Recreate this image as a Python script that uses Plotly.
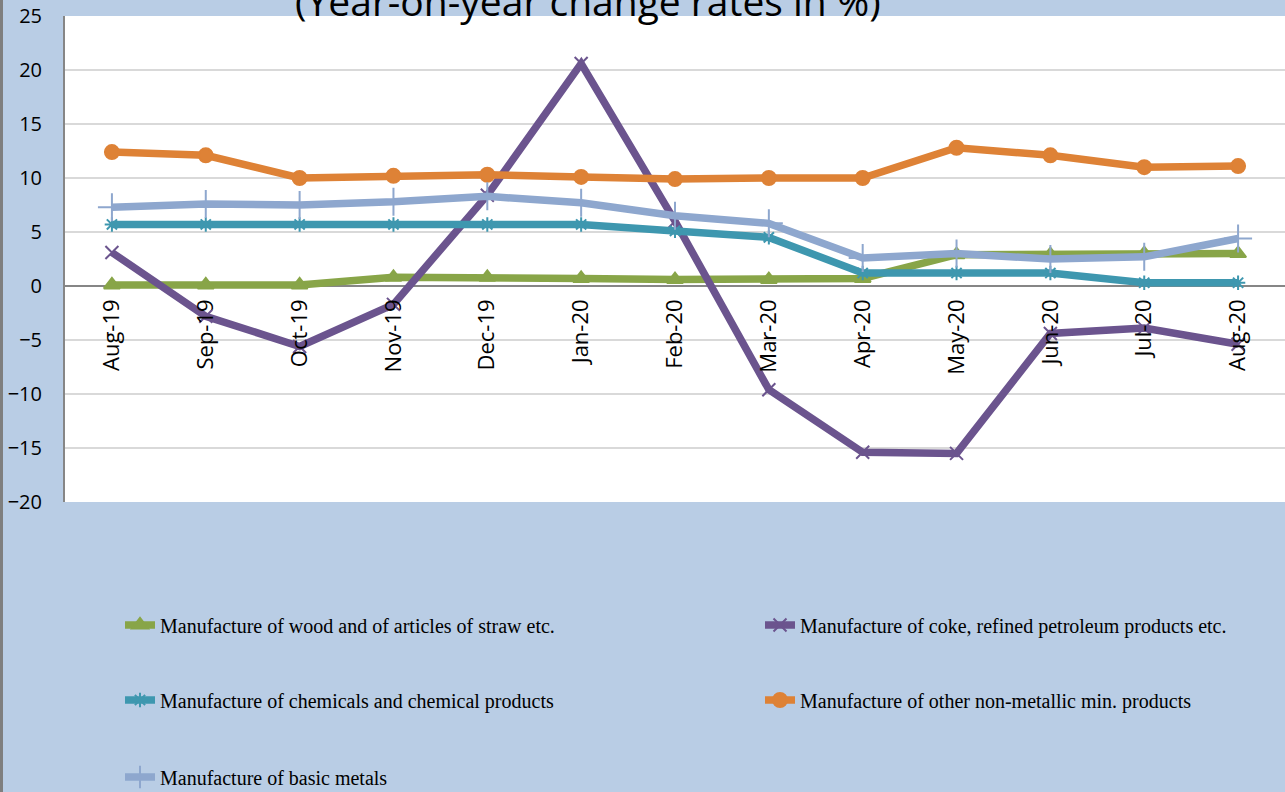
import plotly.graph_objects as go

months = ["Aug-19", "Sep-19", "Oct-19", "Nov-19", "Dec-19", "Jan-20", "Feb-20",
          "Mar-20", "Apr-20", "May-20", "Jun-20", "Jul-20", "Aug-20"]

wood = [0.1, 0.1, 0.1, 0.8, 0.8, 0.7, 0.6, 0.6, 0.7, 2.9, 2.9, 3.0, 3.0]
coke = [3.1, -2.8, -5.6, -1.7, 8.4, 20.6, 6.0, -9.6, -15.4, -15.5, -4.4, -3.9, -5.4]
chemicals = [5.7, 5.7, 5.7, 5.7, 5.7, 5.7, 5.1, 4.5, 1.2, 1.2, 1.2, 0.3, 0.3]
nonmetallic = [12.4, 12.1, 10.0, 10.2, 10.3, 10.1, 9.9, 10.0, 10.0, 12.8, 12.1, 11.0, 11.1]
metals = [7.3, 7.6, 7.5, 7.8, 8.3, 7.7, 6.5, 5.8, 2.6, 3.0, 2.5, 2.7, 4.4]

names = ["Manufacture of wood and of articles of straw etc.",
         "Manufacture of coke, refined petroleum products etc.",
         "Manufacture of chemicals and chemical products",
         "Manufacture of other non-metallic min. products",
         "Manufacture of basic metals"]

title_text = "(Year-on-year change rates in %)"
y_ticks = [-20, -15, -10, -5, 0, 5, 10, 15, 20, 25]

series = [wood, coke, chemicals, nonmetallic, metals]
colors = ["#88A548", "#6B548E", "#3E97AF", "#DE8236", "#8EA7CE"]
symbols = ["triangle-up", "x-thin", "asterisk-open", "circle", "cross-thin"]
msizes = [14, 13, 12, 14, 20]
legends = ["legend", "legend2", "legend3", "legend4", "legend5"]

fig = go.Figure()
for vals, name, col, sym, ms, lg in zip(series, names, colors, symbols, msizes, legends):
    fig.add_trace(go.Scatter(
        x=months, y=vals, name=name, mode="lines+markers", legend=lg,
        line=dict(color=col, width=7.5),
        marker=dict(symbol=sym, size=ms, color=col, line=dict(color=col, width=2)),
        hoverinfo="skip",
    ))

W, H = 1285, 792
ml, mt, mb, mr = 65, 16, 290, 0
plot_h = H - mt - mb
plot_w = W - ml - mr


def px_y(py):
    return (H - mb - py) / plot_h


def px_x(px):
    return (px - ml) / plot_w


leg_font = dict(family="Liberation Serif", size=20, color="#000000")
leg_pos = [(120, 625), (760, 625), (120, 700), (760, 700), (120, 777)]
leg_layout = {}
for lg, (lx, ly) in zip(legends, leg_pos):
    leg_layout[lg] = dict(x=px_x(lx), y=px_y(ly), xanchor="left", yanchor="middle",
                          bgcolor="rgba(0,0,0,0)", font=leg_font, borderwidth=0)

fig.update_layout(
    width=W, height=H,
    margin=dict(l=ml, r=mr, t=mt, b=mb, autoexpand=False),
    paper_bgcolor="#B9CDE5",
    plot_bgcolor="#FFFFFF",
    showlegend=True,
    **leg_layout,
    xaxis=dict(
        type="category", range=[-0.5, 12.5], anchor="free", position=20 / 45,
        tickangle=-90, showgrid=False, showline=False, ticks="", automargin=False,
        ticklabelstandoff=8,
        tickfont=dict(family="Open Sans", size=22, color="#000000"),
    ),
    yaxis=dict(
        range=[-20, 25], tickvals=y_ticks, showgrid=True, gridcolor="#D9D9D9", gridwidth=2,
        zeroline=True, zerolinecolor="#868686", zerolinewidth=2, automargin=False,
        showline=True, linecolor="#868686", linewidth=2, ticks="",
        ticklabelstandoff=17,
        tickfont=dict(family="Open Sans", size=20, color="#000000"),
    ),
    annotations=[dict(
        text=title_text, xref="paper", yref="paper", x=px_x(588), y=1,
        xanchor="center", yanchor="bottom", yshift=-13, showarrow=False,
        font=dict(family="Open Sans", size=39, color="#000000"),
    )],
    shapes=[dict(type="rect", xref="paper", yref="paper", x0=px_x(0), x1=px_x(3),
                 y0=px_y(H), y1=px_y(0), fillcolor="#7F7F7F", line=dict(width=0),
                 layer="above")],
)

fig.write_html("out.html", config={"displayModeBar": False},
               post_script="document.body.style.margin='0';")
